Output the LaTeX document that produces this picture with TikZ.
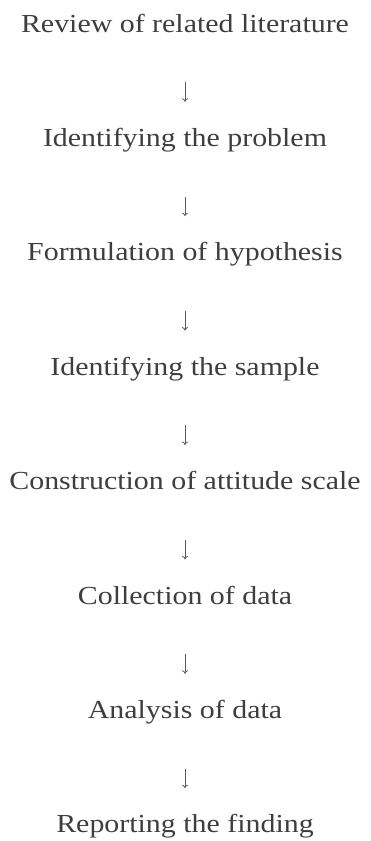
\documentclass[tikz,border=0pt]{standalone}
\usepackage{fontspec}
\setmainfont[FakeStretch=1.15]{Liberation Serif}
\usetikzlibrary{arrows.meta}
\definecolor{inkgray}{RGB}{62,62,62}
\definecolor{arrgray}{RGB}{90,90,90}
\tikzset{
  lbl/.style={inner sep=0pt, text=inkgray, font=\fontsize{26}{30}\selectfont, text height=19pt, text depth=6pt, anchor=base},
  arr/.style={draw=arrgray, line width=0.8pt, -{To[length=3.5pt,width=6pt]}, shorten <=44pt, shorten >=25.4pt}
}
\begin{document}
\begin{tikzpicture}[x=1pt,y=1pt]
\useasboundingbox (0,0) rectangle (370,-841);
\node[lbl] (n1) at (185,-32) {Review of related literature};
\node[lbl] (n2) at (185,-146.4) {Identifying the problem};
\node[lbl] (n3) at (185,-260.8) {Formulation of hypothesis};
\node[lbl] (n4) at (185,-375.2) {Identifying the sample};
\node[lbl] (n5) at (185,-489.6) {Construction of attitude scale};
\node[lbl] (n6) at (185,-604) {Collection of data};
\node[lbl] (n7) at (185,-718.4) {Analysis of data};
\node[lbl] (n8) at (185,-832.8) {Reporting the finding};
\foreach \a/\b in {n1/n2,n2/n3,n3/n4,n4/n5,n5/n6,n6/n7,n7/n8}
  \draw[arr] (\a) -- (\b);
\end{tikzpicture}
\end{document}
